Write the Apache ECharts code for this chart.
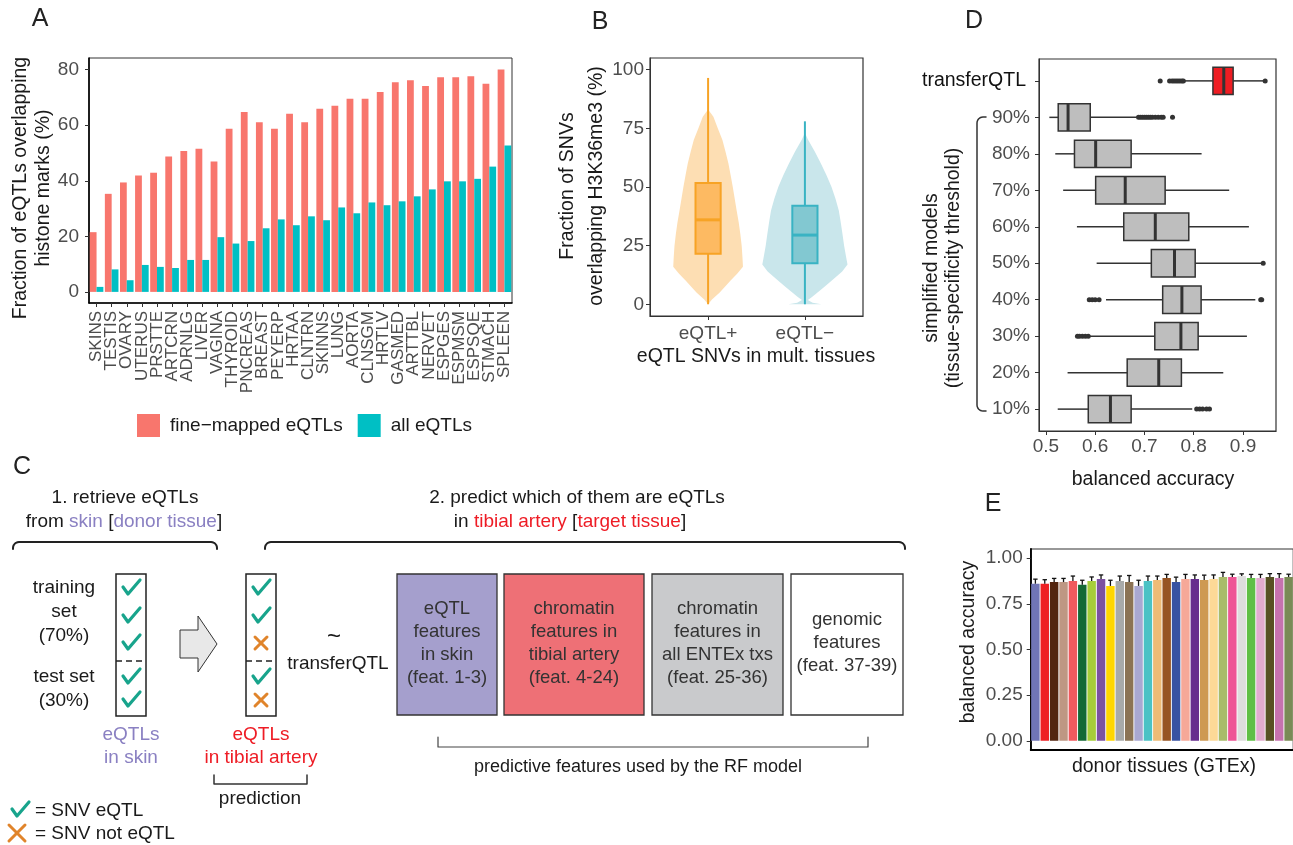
<!DOCTYPE html>
<html><head><meta charset="utf-8">
<script src="https://cdn.jsdelivr.net/npm/echarts@6/dist/echarts.min.js"></script>
<style>html,body{margin:0;padding:0;background:#fff}#c{width:1293px;height:845px}</style>
</head><body><div id="c"></div>
<script>
// ---------- DATA ----------
// Panel A
const tissuesA = ['SKINS','TESTIS','OVARY','UTERUS','PRSTTE','ARTCRN','ADRNLG','LIVER','VAGINA','THYROID','PNCREAS','BREAST','PEYERP','HRTAA','CLNTRN','SKINNS','LUNG','AORTA','CLNSGM','HRTLV','GASMED','ARTTBL','NERVET','ESPGES','ESPMSM','ESPSQE','STMACH','SPLEEN'];
const fineMapped = [21.5,35.3,39.4,41.9,42.9,48.7,50.7,51.5,46.9,58.7,64.8,61.1,58.7,64.1,61.1,65.9,67.0,69.5,69.5,72.0,75.5,76.2,74.1,77.3,77.3,77.6,74.9,80.1];
const allEqtls = [1.8,8.1,4.2,9.7,9.0,8.6,11.5,11.5,19.7,17.4,18.3,22.9,26.1,24.0,27.2,25.8,30.4,28.3,32.2,31.2,32.6,34.4,36.9,39.8,39.8,40.7,45.1,52.7];
const aTicks = [0,20,40,60,80];
// Panel B
const bCats = ['eQTL+','eQTL\u2212'];
const bBox = [ // low, q1, median, q3, high
  [0,21.5,36,51.7,96.5],
  [0,17.5,29.5,42,78]
];
const violinPlusV = [0,2,5,10,13,16,20,25,30,35,40,45,50,55,60,65,70,75,80,83];
const violinPlusW = [0,0.04,0.12,0.23,0.30,0.36,0.355,0.347,0.333,0.316,0.295,0.275,0.255,0.233,0.21,0.18,0.148,0.10,0.055,0];
const violinMinusV = [0,0.7,1.8,3,5,7,10,14,17,20,25,30,35,40,45,50,55,60,65,70,73];
const violinMinusW = [0.17,0.08,0.03,0.07,0.13,0.19,0.275,0.385,0.44,0.426,0.405,0.388,0.37,0.35,0.316,0.275,0.223,0.165,0.103,0.034,0];
const bTicks = [0,25,50,75,100];
// Panel D
const dCats = ['transferQTL','90%','80%','70%','60%','50%','40%','30%','20%','10%'];
const dBox = [ // low, q1, median, q3, high
  [0.780,0.839,0.861,0.880,0.943],
  [0.507,0.525,0.545,0.590,0.686],
  [0.519,0.558,0.601,0.673,0.816],
  [0.535,0.601,0.661,0.742,0.872],
  [0.563,0.658,0.722,0.790,0.912],
  [0.603,0.714,0.761,0.803,0.938],
  [0.622,0.737,0.776,0.815,0.925],
  [0.587,0.721,0.774,0.809,0.908],
  [0.544,0.665,0.729,0.775,0.860],
  [0.524,0.586,0.631,0.673,0.797]
];
const dOutliers = [ // [category position, value]
  [1,0.732],[1,0.751],[1,0.756],[1,0.760],[1,0.764],[1,0.768],[1,0.772],[1,0.776],[1,0.779],[1,0.945],
  [2,0.688],[2,0.692],[2,0.696],[2,0.700],[2,0.704],[2,0.708],[2,0.712],[2,0.716],[2,0.722],[2,0.728],[2,0.734],[2,0.738],[2,0.757],
  [6,0.941],
  [7,0.588],[7,0.594],[7,0.600],[7,0.608],[7,0.936],[7,0.938],
  [8,0.564],[8,0.568],[8,0.574],[8,0.580],[8,0.586],
  [10,0.806],[10,0.812],[10,0.818],[10,0.826],[10,0.832]
];
const dTicks = [0.5,0.6,0.7,0.8,0.9];
// Panel E
const eTissues = ['1','2','3','4','5','6','7','8','9','10','11','12','13','14','15','16','17','18','19','20','21','22','23','24','25','26','27','28'];
const eValues = [0.860,0.860,0.869,0.869,0.875,0.855,0.875,0.886,0.848,0.875,0.869,0.848,0.875,0.880,0.891,0.869,0.886,0.886,0.880,0.886,0.897,0.897,0.902,0.891,0.891,0.897,0.891,0.897];
const eErr = [0.025,0.022,0.020,0.020,0.027,0.024,0.022,0.022,0.031,0.027,0.036,0.031,0.027,0.022,0.020,0.027,0.025,0.022,0.027,0.022,0.025,0.015,0.012,0.020,0.020,0.018,0.024,0.015];
const eTicks = [0,0.25,0.5,0.75,1];

// ---------- STYLE ----------
const F = '"Liberation Sans", Arial, Helvetica, sans-serif';
const GRAY = '#4D4D4D', INK = '#1a1a1a';
const eColors = ['#7075B6','#EE2124','#53250F','#BE9783','#F05A5E','#136935','#A6CD3A','#7B52A1','#FFD600','#A8AAAA','#8B7355','#A9A8D2','#4BC2C5','#EEBB76','#975423','#3852A2','#F6A898','#662D8E','#CE9952','#FDD997','#A9BB6A','#EE5596','#DDDDDD','#5FBF45','#E2ACCE','#575124','#C673AF','#7A8B56'];
const dFill = ['#EE1D23','#BEBEBE','#BEBEBE','#BEBEBE','#BEBEBE','#BEBEBE','#BEBEBE','#BEBEBE','#BEBEBE','#BEBEBE'];
const vFill = ['#FDDEB3','#C9E6EB'];
const bFill = ['#FDBA62','#82C8D1'];
const bLine = ['#F7A325','#39B3C3'];
const PURPLE = '#8A80C2', RED = '#EE1C25', TEAL = '#18A48C', ORANGE = '#E0842B';

function txt(x, y, text, o) {
  o = o || {};
  const st = {text, fill: o.color || INK, fontSize: o.size || 19, fontFamily: F,
    textAlign: o.align || 'center', textVerticalAlign: 'middle', align: o.align || 'center', verticalAlign: 'middle'};
  if (o.rich) st.rich = o.rich;
  return {type:'text', x, y, rotation: o.rot || 0, silent:true, style: st, z: 10};
}
function rs(color, size){ return {fill: color, color: color, fontSize: size || 19, fontFamily: F}; }
function pl(points, stroke, w, dash) {
  return {type:'polyline', shape:{points}, silent:true, z:10,
    style:{stroke, lineWidth:w, fill:null, lineDash: dash || null, lineCap:'round', lineJoin:'round'}};
}
function roundBracket(x1, x2, y, h, r) {
  const pts = [[x1, y + h]];
  for (let k = 0; k <= 6; k++) { const a = Math.PI - k * Math.PI / 12; pts.push([x1 + r + r * Math.cos(a), y + r - r * Math.sin(a)]); }
  for (let k = 6; k <= 12; k++) { const a = Math.PI - k * Math.PI / 12; pts.push([x2 - r + r * Math.cos(a), y + r - r * Math.sin(a)]); }
  pts.push([x2, y + h]);
  return pts;
}
function leftBracket(x, y1, y2, w, r) {
  const pts = [[x + w, y1]];
  for (let k = 0; k <= 6; k++) { const a = -Math.PI / 2 - k * Math.PI / 12; pts.push([x + r + r * Math.cos(a), y1 + r + r * Math.sin(a)]); }
  for (let k = 6; k <= 12; k++) { const a = -Math.PI / 2 - k * Math.PI / 12; pts.push([x + r + r * Math.cos(a), y2 - r + r * Math.sin(a)]); }
  pts.push([x + w, y2]);
  return pts;
}
function check(cx, cy) { return pl([[cx-8,cy-1],[cx-3,cy+6],[cx+9,cy-8]], TEAL, 3.2); }
function cross(cx, cy, s) {
  s = s || 7;
  return [pl([[cx-s,cy-s],[cx+s,cy+s]], ORANGE, 3), pl([[cx-s,cy+s],[cx+s,cy-s]], ORANGE, 3)];
}

const G = [];
G.push(txt(40, 19, 'A', {size:25, color:'#222'}));
G.push(txt(600, 22, 'B', {size:25, color:'#222'}));
G.push(txt(974, 21, 'D', {size:25, color:'#222'}));
G.push(txt(22, 467, 'C', {size:25, color:'#222'}));
G.push(txt(993, 504, 'E', {size:25, color:'#222'}));
G.push(txt(21, 188, 'Fraction of eQTLs overlapping', {rot:Math.PI/2, size:19.5}));
G.push(txt(44, 188, 'histone marks (%)', {rot:Math.PI/2, size:19.5}));
G.push(txt(568, 186, 'Fraction of SNVs', {rot:Math.PI/2, size:19.5}));
G.push(txt(597, 186, 'overlapping H3K36me3 (%)', {rot:Math.PI/2, size:19.5}));
G.push(txt(756, 357, 'eQTL SNVs in mult. tissues', {size:19.5}));
G.push(txt(932, 268, 'simplified models', {rot:Math.PI/2, size:19.5}));
G.push(txt(954, 268, '(tissue-specificity threshold)', {rot:Math.PI/2, size:19.5}));
G.push(pl(leftBracket(977, 117, 411, 9, 6), '#333', 1.5));
G.push(txt(1153, 480, 'balanced accuracy', {size:19.5}));
G.push(txt(969, 642, 'balanced accuracy', {rot:Math.PI/2, size:19.5}));
G.push(txt(1164, 767, 'donor tissues (GTEx)', {size:19.5}));

// ---- Panel C diagram ----
G.push(txt(125, 498, '1. retrieve eQTLs'));
G.push(txt(124, 522, '{k|from }{p|skin}{k| [}{p|donor tissue}{k|]}', {rich:{k:rs(INK), p:rs(PURPLE)}}));
G.push(txt(577, 498, '2. predict which of them are eQTLs'));
G.push(txt(570, 522, '{k|in }{r|tibial artery}{k| [}{r|target tissue}{k|]}', {rich:{k:rs(INK), r:rs(RED)}}));
G.push(pl(roundBracket(13, 217, 542, 7, 6), '#222', 2));
G.push(pl(roundBracket(265, 905, 542, 7, 6), '#222', 2));
G.push(txt(64, 588, 'training'));
G.push(txt(64, 612, 'set'));
G.push(txt(64, 636, '(70%)'));
G.push(txt(64, 677, 'test set'));
G.push(txt(64, 701, '(30%)'));
[116, 246].forEach(x => {
  G.push({type:'rect', shape:{x, y:574, width:30, height:142}, silent:true, z:10, style:{fill:'#fff', stroke:'#222', lineWidth:1.5}});
  G.push({type:'line', shape:{x1:x, y1:661, x2:x+30, y2:661}, silent:true, z:11, style:{stroke:'#222', lineWidth:1.5, lineDash:[6,4]}});
});
[588,616,643,677,700].forEach(y => G.push(check(131, y)));
G.push(check(261, 588)); G.push(check(261, 616)); G.push(check(261, 677));
G.push(...cross(261, 643, 6)); G.push(...cross(261, 700, 6));
G.push({type:'polygon', silent:true, z:10, shape:{points:[[180,630],[198,630],[198,616],[217,644],[198,672],[198,658],[180,658]]}, style:{fill:'#E8E8E8', stroke:'#333', lineWidth:1}});
G.push(txt(334, 637, '~', {size:24}));
G.push(txt(338, 664, 'transferQTL'));
G.push(txt(131, 735, 'eQTLs', {color:PURPLE}));
G.push(txt(131, 758, 'in skin', {color:PURPLE}));
G.push(txt(261, 735, 'eQTLs', {color:RED}));
G.push(txt(261, 758, 'in tibial artery', {color:RED}));
G.push(pl([[214,775],[214,784],[307,784],[307,775]], '#333', 1.5));
G.push(txt(260, 799, 'prediction'));
G.push(check(20, 810));
G.push(txt(35, 811, '= SNV eQTL', {align:'left'}));
G.push(...cross(17, 833, 8));
G.push(txt(35, 834, '= SNV not eQTL', {align:'left'}));
const fBoxes = [
  {x:397, w:100, fill:'#A59FCD', lines:['eQTL','features','in skin','(feat. 1-3)']},
  {x:504, w:140, fill:'#EE7076', lines:['chromatin','features in','tibial artery','(feat. 4-24)']},
  {x:652, w:131, fill:'#C9CACC', lines:['chromatin','features in','all ENTEx txs','(feat. 25-36)']},
  {x:791, w:112, fill:'#FFFFFF', lines:['genomic','features','(feat. 37-39)']}
];
fBoxes.forEach(b => {
  G.push({type:'rect', shape:{x:b.x, y:574, width:b.w, height:141}, silent:true, z:10, style:{fill:b.fill, stroke:'#333', lineWidth:1.3}});
  const n = b.lines.length, y0 = 643 - (n - 1) * 23 / 2;
  b.lines.forEach((l, i) => G.push(txt(b.x + b.w / 2, y0 + i * 23, l, {size:18.5, color:'#333'})));
});
G.push(pl([[438,737],[438,747],[868,747],[868,737]], '#444', 1.2));
G.push(txt(638, 767, 'predictive features used by the RF model', {size:18}));

// ---------- CHART ----------
const chart = echarts.init(document.getElementById('c'));
function ax(extra, lineColor, lineWidth) {
  return Object.assign({
    splitLine:{show:false},
    axisLine:{show:true, onZero:false, lineStyle:{color: lineColor || '#333', width: lineWidth || 1}}
  }, extra);
}
const tick = (vals) => ({show:true, length:4, customValues:vals, lineStyle:{color:'#333'}});
const lab = (extra) => Object.assign({color:GRAY, fontSize:19, fontFamily:F}, extra);

const option = {
  animation:false,
  backgroundColor:'#fff',
  textStyle:{fontFamily:F},
  grid:[
    {left:89, top:58, width:423, height:245, show:true, borderColor:'#333', borderWidth:1, outerBoundsMode:'none'},
    {left:650, top:58, width:213, height:258, show:true, borderColor:'#333', borderWidth:1.2, outerBoundsMode:'none'},
    {left:1039, top:59, width:237, height:372, show:true, borderColor:'#333', borderWidth:1.2, outerBoundsMode:'none'},
    {left:1030.7, top:549, width:262.6, height:201, show:true, borderColor:'#333', borderWidth:1.2, outerBoundsMode:'none'}
  ],
  legend:{left:132, top:409, itemWidth:23, itemHeight:23, itemGap:15, icon:'rect',
    data:['fine\u2212mapped eQTLs','all eQTLs'],
    textStyle:{fontSize:19, color:INK, fontFamily:F, padding:[0,0,0,5]}},
  xAxis:[
    ax({gridIndex:0, type:'category', data:tissuesA,
      axisTick:{show:true, alignWithLabel:true, length:4, lineStyle:{color:'#333'}},
      axisLabel:lab({rotate:90, interval:0, fontSize:17, margin:8})}, '#000', 1.6),
    ax({gridIndex:1, type:'value', min:0.4, max:2.6, axisTick:tick([1,2]),
      axisLabel:lab({customValues:[1,2], formatter:v => bCats[Math.round(v) - 1], margin:8})}),
    ax({gridIndex:2, type:'value', min:0.486, max:0.967, axisTick:tick(dTicks),
      axisLabel:lab({customValues:dTicks, formatter:v => v.toFixed(1), margin:6})}),
    ax({gridIndex:3, type:'category', data:eTissues, axisTick:{show:false}, axisLabel:{show:false}}, '#000', 1.8)
  ],
  yAxis:[
    ax({gridIndex:0, type:'value', min:-4, max:84.2, axisTick:tick(aTicks),
      axisLabel:lab({customValues:aTicks, margin:10})}, '#000', 1.6),
    ax({gridIndex:1, type:'value', min:-5, max:105, axisTick:tick(bTicks),
      axisLabel:lab({customValues:bTicks, margin:6})}),
    ax({gridIndex:2, type:'value', min:0.4, max:10.6, inverse:true, axisTick:tick([1,2,3,4,5,6,7,8,9,10]),
      axisLabel:{customValues:[1,2,3,4,5,6,7,8,9,10], margin:9,
        formatter:v => { const i = Math.round(v) - 1; return i === 0 ? '{a|' + dCats[i] + '}' : '{b|' + dCats[i] + '}'; },
        rich:{a:{color:'#111', fontSize:19.5, fontFamily:F, padding:[0,4,0,0]}, b:{color:GRAY, fontSize:19, fontFamily:F}}}}),
    ax({gridIndex:3, type:'value', min:-0.05, max:1.05, axisTick:tick(eTicks),
      axisLabel:lab({customValues:eTicks, formatter:v => v.toFixed(2), margin:8})}, '#000', 1.8)
  ],
  graphic:{elements:G},
  series:[
    {name:'fine\u2212mapped eQTLs', type:'bar', xAxisIndex:0, yAxisIndex:0, data:fineMapped,
      itemStyle:{color:'#F8766D'}, barGap:'0%', barCategoryGap:'10%'},
    {name:'all eQTLs', type:'bar', xAxisIndex:0, yAxisIndex:0, data:allEqtls,
      itemStyle:{color:'#00BFC4'}, barGap:'0%', barCategoryGap:'10%'},
    {name:'violin', type:'custom', xAxisIndex:1, yAxisIndex:1, data:[[1,0],[2,0]], encode:{x:0, y:1}, silent:true,
      renderItem:(params, api) => {
        const i = params.dataIndex, c = api.value(0);
        const V = i === 0 ? violinPlusV : violinMinusV, W = i === 0 ? violinPlusW : violinMinusW;
        const pts = [];
        for (let k = 0; k < V.length; k++) pts.push(api.coord([c - W[k], V[k]]));
        for (let k = V.length - 1; k >= 0; k--) pts.push(api.coord([c + W[k], V[k]]));
        return {type:'polygon', shape:{points:pts}, style:{fill:vFill[i]}};
      }},
    {name:'boxB', type:'custom', xAxisIndex:1, yAxisIndex:1, silent:true,
      data:bBox.map((r, i) => [i + 1].concat(r)), encode:{x:0, y:[1,2,3,4,5]},
      renderItem:(params, api) => {
        const i = params.dataIndex, c = api.value(0), hw = 0.13;
        const lo = api.coord([c, api.value(1)]), q1 = api.coord([c - hw, api.value(2)]),
              md = api.coord([c - hw, api.value(3)]), q3 = api.coord([c + hw, api.value(4)]),
              hi = api.coord([c, api.value(5)]), mdR = api.coord([c + hw, api.value(3)]);
        const col = bLine[i];
        return {type:'group', children:[
          {type:'line', shape:{x1:lo[0], y1:lo[1], x2:hi[0], y2:hi[1]}, style:{stroke:col, lineWidth:2}},
          {type:'rect', shape:{x:q1[0], y:q3[1], width:q3[0] - q1[0], height:q1[1] - q3[1]}, style:{fill:bFill[i], stroke:col, lineWidth:2}},
          {type:'line', shape:{x1:md[0], y1:md[1], x2:mdR[0], y2:mdR[1]}, style:{stroke:col, lineWidth:3}}
        ]};
      }},
    {name:'boxD', type:'custom', xAxisIndex:2, yAxisIndex:2, silent:true,
      data:dBox.map((r, i) => [i + 1].concat(r)), encode:{y:0, x:[1,2,3,4,5]},
      renderItem:(params, api) => {
        const i = params.dataIndex, c = api.value(0);
        const h = Math.abs(api.size([0, 1])[1]) * 0.375;
        const p = [1,2,3,4,5].map(k => api.coord([api.value(k), c]));
        const y = p[0][1];
        return {type:'group', children:[
          {type:'line', shape:{x1:p[0][0], y1:y, x2:p[1][0], y2:y}, style:{stroke:'#333', lineWidth:1.5}},
          {type:'line', shape:{x1:p[3][0], y1:y, x2:p[4][0], y2:y}, style:{stroke:'#333', lineWidth:1.5}},
          {type:'rect', shape:{x:p[1][0], y:y - h, width:p[3][0] - p[1][0], height:2 * h}, style:{fill:dFill[i], stroke:'#333', lineWidth:1.5}},
          {type:'line', shape:{x1:p[2][0], y1:y - h, x2:p[2][0], y2:y + h}, style:{stroke:'#333', lineWidth:3}}
        ]};
      }},
    {name:'outliers', type:'scatter', xAxisIndex:2, yAxisIndex:2, silent:true,
      data:dOutliers.map(o => [o[1], o[0]]), symbolSize:5, itemStyle:{color:'#333', opacity:1}},
    {name:'donor', type:'bar', xAxisIndex:3, yAxisIndex:3, silent:true, barCategoryGap:'10%',
      data:eValues.map((v, i) => ({value:v, itemStyle:{color:eColors[i]}}))},
    {name:'err', type:'custom', xAxisIndex:3, yAxisIndex:3, silent:true, z:5,
      data:eValues.map((v, i) => [i, v, eErr[i]]), encode:{x:0, y:1},
      renderItem:(params, api) => {
        const i = api.value(0), v = api.value(1), e = api.value(2);
        const p0 = api.coord([i, v]), p1 = api.coord([i, v + e]);
        return {type:'group', children:[
          {type:'line', shape:{x1:p0[0], y1:p0[1], x2:p1[0], y2:p1[1]}, style:{stroke:'#111', lineWidth:1.3}},
          {type:'line', shape:{x1:p1[0] - 2.2, y1:p1[1], x2:p1[0] + 2.2, y2:p1[1]}, style:{stroke:'#111', lineWidth:1.3}}
        ]};
      }}
  ]
};
chart.setOption(option);
</script></body></html>
